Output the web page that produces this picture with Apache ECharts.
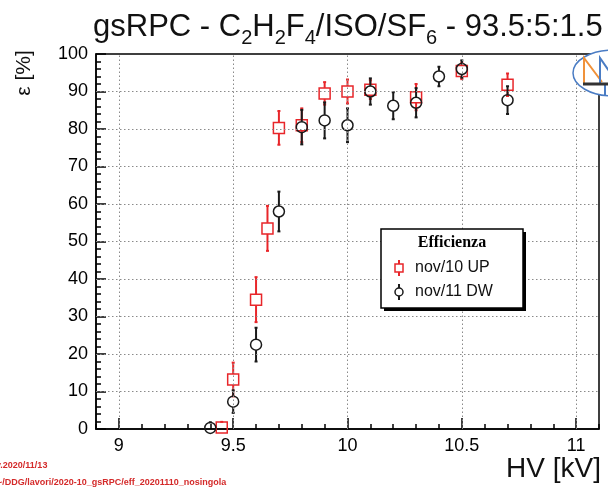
<!DOCTYPE html>
<html><head><meta charset="utf-8">
<script src="https://cdn.jsdelivr.net/npm/echarts@6/dist/echarts.min.js"></script>
<style>html,body{margin:0;padding:0;background:#fff}#c{width:608px;height:490px}</style>
</head><body><div id="c"></div>
<script>
// ---- data ----
const redX   = [9.45, 9.5, 9.6, 9.65, 9.7, 9.8, 9.9, 10.0, 10.1, 10.3, 10.5, 10.7];
const redY   = [0.4, 13.2, 34.5, 53.5, 80.3, 81.0, 89.5, 90.0, 90.5, 88.5, 95.5, 91.8];
const redErr = [1.5, 4.5, 6.0, 6.0, 4.5, 4.5, 3.0, 3.2, 2.5, 3.5, 2.2, 3.0];
const blackX   = [9.4, 9.5, 9.6, 9.7, 9.8, 9.9, 10.0, 10.1, 10.2, 10.3, 10.4, 10.5, 10.7];
const blackY   = [0.3, 7.3, 22.5, 58.0, 80.5, 82.3, 81.0, 90.0, 86.2, 87.0, 94.0, 96.0, 87.7];
const blackErr = [1.5, 3.0, 4.5, 5.3, 4.6, 4.8, 4.5, 3.5, 3.6, 3.9, 2.6, 2.3, 3.7];
const xMajorTicks = [9, 9.5, 10, 10.5, 11];
const yGridValues = [10, 20, 30, 40, 50, 60, 70, 80, 90];
const seriesNames = ['nov/10 UP', 'nov/11 DW'];

const RED = '#e8262a', BLK = '#1a1a1a';
const chart = echarts.init(document.getElementById('c'));

function toData(xs, ys, es){ return xs.map((x,i)=>[x, ys[i], es[i]]); }

function renderer(shape, color){
  return function(params, api){
    const x = api.value(0), y = api.value(1), e = api.value(2);
    const p = api.coord([x, y]);
    const pt = api.coord([x, y + e]);
    const pb = api.coord([x, Math.max(0, y - e)]);
    const r = 5.5;
    const ch = [];
    const ls = {stroke: color, lineWidth: 2};
    if (p[1] - pt[1] > r) {
      ch.push({type:'line', shape:{x1:p[0], y1:pt[1], x2:p[0], y2:p[1]-r}, style:ls});
      ch.push({type:'line', shape:{x1:p[0]-1.5, y1:pt[1], x2:p[0]+1.5, y2:pt[1]}, style:{stroke:color,lineWidth:2}});
    }
    if (pb[1] - p[1] > r) {
      ch.push({type:'line', shape:{x1:p[0], y1:p[1]+r, x2:p[0], y2:pb[1]}, style:ls});
      ch.push({type:'line', shape:{x1:p[0]-1.5, y1:pb[1], x2:p[0]+1.5, y2:pb[1]}, style:{stroke:color,lineWidth:2}});
    }
    if (shape === 'square') {
      ch.push({type:'rect', shape:{x:p[0]-r, y:p[1]-r, width:2*r, height:2*r}, style:{fill:'none', stroke:color, lineWidth:1.5}});
    } else {
      ch.push({type:'circle', shape:{cx:p[0], cy:p[1], r:r}, style:{fill:'none', stroke:color, lineWidth:1.5}});
    }
    return {type:'group', children: ch};
  };
}

function legendMarker(shape, color, cx, cy){
  const r = 4;
  const out = [
    {type:'line', z: 13, shape:{x1:cx, y1:cy-8, x2:cx, y2:cy-r}, style:{stroke:color, lineWidth:2}},
    {type:'line', z: 13, shape:{x1:cx, y1:cy+r, x2:cx, y2:cy+8}, style:{stroke:color, lineWidth:2}}
  ];
  if (shape === 'square') out.push({type:'rect', z: 13, shape:{x:cx-r, y:cy-r, width:2*r, height:2*r}, style:{fill:'#fff', stroke:color, lineWidth:1.5}});
  else out.push({type:'circle', z: 13, shape:{cx:cx, cy:cy, r:r}, style:{fill:'#fff', stroke:color, lineWidth:1.5}});
  return out;
}

const option = {
  animation: false,
  grid: {left: 96, right: 9, top: 54, bottom: 61, show: true, borderColor: '#000', borderWidth: 1.5, backgroundColor: 'transparent'},
  xAxis: [{
    type: 'value', min: 8.9, max: 11.1, interval: 0.1,
    axisLine: {show: true, lineStyle: {color: '#000', width: 1.5}},
    axisTick: {show: true, inside: true, length: 5, lineStyle: {color: '#000', width: 1.5}},
    axisLabel: {margin: 8, color: '#000', fontSize: 18, fontFamily: 'Liberation Sans',
      formatter: function(v){ const d = v*2; return Math.abs(d - Math.round(d)) < 1e-6 ? String(Math.round(d)/2) : ''; }},
    splitLine: {show: false}
  }, {
    type: 'value', min: 8.9, max: 11.1, position: 'bottom', gridIndex: 0,
    axisLine: {show: false},
    axisTick: {show: true, inside: true, length: 11, customValues: xMajorTicks, lineStyle: {color: '#000', width: 1.5}},
    axisLabel: {show: false}, splitLine: {show: false}
  }],
  yAxis: {
    type: 'value', min: 0, max: 100, interval: 10,
    axisLine: {show: true, lineStyle: {color: '#000', width: 1.5}},
    axisTick: {show: true, inside: true, length: 10, lineStyle: {color: '#000', width: 1.5}},
    minorTick: {show: true, splitNumber: 5, length: 5, lineStyle: {color: '#000', width: 1.5}},
    axisLabel: {margin: 8, color: '#000', fontSize: 18, fontFamily: 'Liberation Sans'},
    splitLine: {show: false}
  },
  series: [{
    type: 'line', data: [], silent: true, z: 1,
    markLine: {silent: true, symbol: 'none', label: {show: false}, animation: false,
      lineStyle: {type: [1.5, 2.5], color: '#8a8a8a', width: 1},
      data: xMajorTicks.map(v => ({xAxis: v})).concat(yGridValues.map(v => ({yAxis: v})))}
  }, {
    name: seriesNames[0], type: 'custom', clip: false, z: 3,
    renderItem: renderer('square', RED), data: toData(redX, redY, redErr),
    encode: {x: 0, y: 1}
  }, {
    name: seriesNames[1], type: 'custom', clip: false, z: 4,
    renderItem: renderer('circle', BLK), data: toData(blackX, blackY, blackErr),
    encode: {x: 0, y: 1}
  }],
  graphic: [
    // title: main text and subscripts as separate runs
    {type: 'text', x: 93, y: 49, z: 10, style: {
      text: '{m|gsRPC - C}{s|2}{m|H}{s|2}{m|F}{s|4}{m|/ISO/SF}{s|6}{m| - 93.5:5:1.5}',
      verticalAlign: 'bottom',
      rich: {
        m: {fontSize: 31, fontFamily: 'Liberation Sans', lineHeight: 31, verticalAlign: 'bottom', padding: [0, 0, 6, 0], fill: '#111'},
        s: {fontSize: 20, fontFamily: 'Liberation Sans', lineHeight: 20, verticalAlign: 'bottom', padding: [0, 0, 1, 0], fill: '#111'}
      }}},
    // y axis name
    {type: 'text', x: 24, y: 73, rotation: Math.PI/2, z: 10, style: {
      text: 'ε [%]', fontSize: 21, fontFamily: 'Liberation Sans', fill: '#111', align: 'center', verticalAlign: 'middle'}},
    // x axis name
    {type: 'text', x: 601, y: 469, z: 10, style: {
      text: 'HV [kV]', fontSize: 28, fontFamily: 'Liberation Sans', fill: '#111', align: 'right', verticalAlign: 'middle'}},
    // footer
    {type: 'text', x: -4, y: 466, z: 10, style: {text: 'v.2020/11/13', fontSize: 9, fontWeight: 'bold', fontFamily: 'Liberation Sans Narrow, Liberation Sans', fill: '#d42a2a', verticalAlign: 'middle'}},
    {type: 'text', x: -3, y: 483, z: 10, style: {text: '~/DDG/lavori/2020-10_gsRPC/eff_20201110_nosingola', fontSize: 9, fontWeight: 'bold', fontFamily: 'Liberation Sans Narrow, Liberation Sans', fill: '#d42a2a', verticalAlign: 'middle'}},
    // legend
    {type: 'rect', shape: {x: 384, y: 232, width: 142, height: 79}, style: {fill: '#000'}, z: 10},
    {type: 'rect', shape: {x: 381, y: 229, width: 142, height: 79}, style: {fill: '#fff', stroke: '#000', lineWidth: 1.5}, z: 11},
    {type: 'text', x: 452, y: 243, z: 12, style: {text: 'Efficienza', fontSize: 16, fontWeight: 'bold', fontFamily: 'Liberation Serif', fill: '#000', align: 'center', verticalAlign: 'middle'}},
    ...legendMarker('square', RED, 399, 268),
    ...legendMarker('circle', BLK, 399, 292),
    {type: 'text', x: 415, y: 268, z: 12, style: {text: seriesNames[0], fontSize: 16, fontFamily: 'Liberation Sans', fill: '#111', verticalAlign: 'middle'}},
    {type: 'text', x: 415, y: 292, z: 12, style: {text: seriesNames[1], fontSize: 16, fontFamily: 'Liberation Sans', fill: '#111', verticalAlign: 'middle'}},
    // logo
    {type: 'ellipse', shape: {cx: 613, cy: 73, rx: 40, ry: 23}, style: {fill: '#fff', stroke: '#4a7cc4', lineWidth: 1.5}, z: 20},
    {type: 'polyline', shape: {points: [[584,84],[584,58],[602,82]]}, style: {fill: 'none', stroke: '#f0923a', lineWidth: 2}, z: 21},
    {type: 'polyline', shape: {points: [[600,84],[600,58],[614,78]]}, style: {fill: 'none', stroke: '#4a7cc4', lineWidth: 2}, z: 21},
    {type: 'line', shape: {x1: 583, y1: 84, x2: 610, y2: 84}, style: {stroke: '#333', lineWidth: 3}, z: 22},
    {type: 'line', shape: {x1: 605, y1: 84, x2: 605, y2: 95}, style: {stroke: '#4a7cc4', lineWidth: 2}, z: 21}
  ]
};
chart.setOption(option);
</script></body></html>
